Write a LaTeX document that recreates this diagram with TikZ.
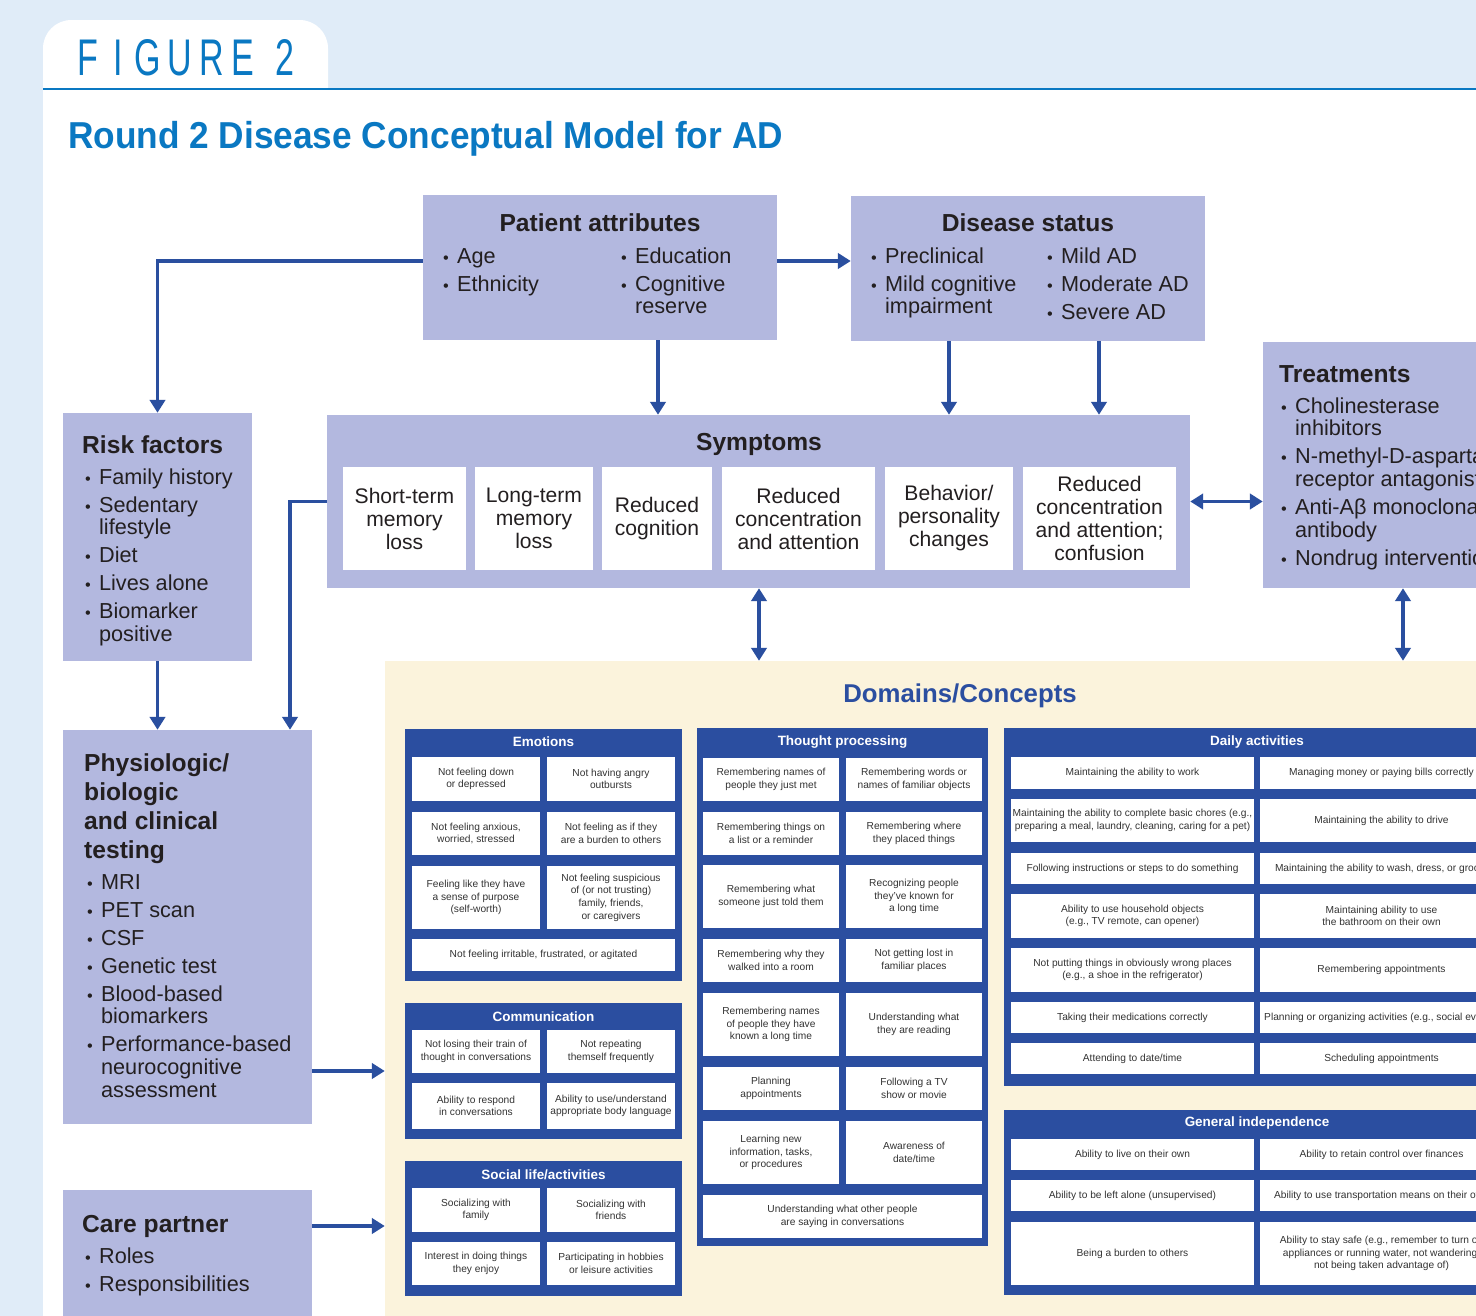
\documentclass[tikz,border=0pt]{standalone}
\usepackage{fontspec}
\setmainfont{Liberation Sans}
\usetikzlibrary{arrows.meta,fit}

\definecolor{bgblue}{HTML}{E0ECF8}
\definecolor{figblue}{HTML}{0A78C2}
\definecolor{lav}{HTML}{B3B8DF}
\definecolor{arrowblue}{HTML}{2A4F9F}
\definecolor{panelblue}{HTML}{2B4EA0}
\definecolor{cream}{HTML}{FBF3DC}
\definecolor{textdark}{HTML}{231F20}
\definecolor{celltext}{HTML}{333333}

\newcommand{\headfont}{\bfseries\fontsize{21}{24.8}\selectfont}
\newcommand{\bodyfont}{\fontsize{18.5}{19.6}\selectfont}
\newcommand{\symfont}{\fontsize{18}{19.6}\selectfont}
\newcommand{\cellfont}{\fontsize{8.7}{10.8}\selectfont}
\newcommand{\bt}{\scalebox{0.75}{\textbullet}}
\newcommand{\blist}[1]{\begin{tabular}[t]{@{}l@{\hspace{7pt}}l@{}}#1\end{tabular}}
\newcommand{\hlines}[1]{\begin{tabular}[t]{@{}l@{}}#1\end{tabular}}
\newcommand{\cellnode}[6]{\node[cellbox, fit={(#2,#3) (#4,#5)}] (#1) {};
  \node[celltext] (#1-t) at (#1.center) {#6};}
\newcommand{\symnode}[6]{\node[symbox, fit={(#2,#3) (#4,#5)}] (#1) {};
  \node[symtext] (#1-t) at (#1.center) {#6};}

\tikzset{
  mainbox/.style={fill=lav, inner sep=0pt},
  headtext/.style={font=\headfont, text=textdark, inner sep=0pt},
  listtext/.style={font=\bodyfont, text=textdark, inner sep=0pt, anchor=base west},
  symbox/.style={fill=white, inner sep=0pt},
  symtext/.style={inner sep=0pt, align=center, font=\symfont, text=textdark},
  panelbox/.style={fill=panelblue, inner sep=0pt},
  ptitle/.style={text=white, font=\bfseries\fontsize{11.5}{13}\selectfont, inner sep=0pt},
  cellbox/.style={fill=white, inner sep=0pt},
  celltext/.style={inner sep=0pt, align=center, font=\cellfont, text=celltext},
  figtext/.style={text=figblue, font=\fontsize{44}{44}\selectfont, inner sep=0pt},
  arr/.style={draw=arrowblue, line width=3pt, -{Triangle[width=13pt,length=11pt]}},
  darr/.style={draw=arrowblue, line width=3pt, {Triangle[width=13pt,length=11pt]}-{Triangle[width=13pt,length=11pt]}}
}

\begin{document}
\begin{tikzpicture}[x=0.03cm, y=-0.03cm]
\useasboundingbox (0,0) rectangle (1476,1316);
\clip (0,0) rectangle (1476,1316);

% page background
\fill[bgblue] (0,0) rectangle (1476,1316);
\fill[white, rounded corners=0.85cm] (43,20) rectangle (328,140);
\fill[white] (43,90) rectangle (1476,1316);
\draw[figblue, line width=2.5pt] (43,89) -- (1476,89);

\foreach \ch/\xx in {F/88, I/118, G/148, U/180, R/212, E/243, 2/285}
  \node[figtext] (fig-\ch) at (\xx,58) {\scalebox{0.66}[1]{\ch}};
\node[anchor=base west, inner sep=0pt, text=figblue, font=\bfseries\fontsize{32}{32}\selectfont] (title) at (68,148) {\scalebox{0.94}[1]{Round 2 Disease Conceptual Model for AD}};

% main boxes
\node[mainbox, fit={(423,195) (777,340)}] (pa) {};
\node[mainbox, fit={(851,196) (1205,341)}] (ds) {};
\node[mainbox, fit={(1263,342) (1543,588)}] (tr) {};
\node[mainbox, fit={(63,413) (252,661)}] (rf) {};
\node[mainbox, fit={(327,415) (1190,588)}] (sy) {};
\node[mainbox, fit={(63,730) (312,1124)}] (ph) {};
\node[mainbox, fit={(63,1190) (312,1340)}] (cp) {};
\node[fill=cream, inner sep=0pt, fit={(385,661) (1540,1340)}] (dom) {};

\node[headtext, anchor=base] (pa-head) at (600,231) {Patient attributes};
\node[listtext] (pa-l1) at (443,263) {\blist{\bt & Age\\[4.3pt] \bt & Ethnicity}};
\node[listtext] (pa-l2) at (621,263) {\blist{\bt & Education\\[4.3pt] \bt & Cognitive\\ & reserve}};

\node[headtext, anchor=base] (ds-head) at (1028,231) {Disease status};
\node[listtext] (ds-l1) at (871,263) {\blist{\bt & Preclinical\\[4.3pt] \bt & Mild cognitive\\ & impairment}};
\node[listtext] (ds-l2) at (1047,263) {\blist{\bt & Mild AD\\[4.3pt] \bt & Moderate AD\\[4.3pt] \bt & Severe AD}};

\node[headtext, anchor=base west] (tr-head) at (1279,382) {Treatments};
\node[listtext] (tr-l) at (1281,413) {\blist{\bt & Cholinesterase\\ & inhibitors\\[4.3pt] \bt & N-methyl-D-aspartate\\ & receptor antagonists\\[4.3pt] \bt & Anti-Aβ monoclonal\\ & antibody\\[4.3pt] \bt & Nondrug interventions}};

\node[headtext, anchor=base west] (rf-head) at (82,453) {Risk factors};
\node[listtext] (rf-l) at (85,484) {\blist{\bt & Family history\\[4.3pt] \bt & Sedentary\\ & lifestyle\\[4.3pt] \bt & Diet\\[4.3pt] \bt & Lives alone\\[4.3pt] \bt & Biomarker\\ & positive}};

\node[headtext, anchor=base west] (ph-head) at (84,771) {\hlines{Physiologic/\\biologic\\and clinical\\testing}};
\node[listtext] (ph-l) at (87,889) {\blist{\bt & MRI\\[4.3pt] \bt & PET scan\\[4.3pt] \bt & CSF\\[4.3pt] \bt & Genetic test\\[4.3pt] \bt & Blood-based\\ & biomarkers\\[4.3pt] \bt & Performance-based\\ & neurocognitive\\ & assessment}};

\node[headtext, anchor=base west] (cp-head) at (82,1232) {Care partner};
\node[listtext] (cp-l) at (85,1263) {\blist{\bt & Roles\\[4.3pt] \bt & Responsibilities}};

% symptoms
\node[headtext, anchor=base] (sy-head) at (759,450) {Symptoms};
\symnode{sy1}{343}{467}{466}{570}{Short-term\\memory\\loss}
\symnode{sy2}{475}{467}{593}{570}{Long-term\\memory\\loss}
\symnode{sy3}{602}{467}{712}{570}{Reduced\\cognition}
\symnode{sy4}{722}{467}{875}{570}{Reduced\\concentration\\and attention}
\symnode{sy5}{885}{467}{1013}{570}{Behavior/\\personality\\changes}
\symnode{sy6}{1023}{467}{1176}{570}{Reduced\\concentration\\and attention;\\confusion}

% domains
\node[font=\bfseries\fontsize{22}{24}\selectfont, text=panelblue, inner sep=0pt] (dom-head) at (960,696) {Domains/Concepts};

\node[panelbox, fit={(405,729) (682,981)}] (emo) {};
\node[ptitle] (emo-t) at (543.5,742) {Emotions};
\cellnode{em1}{412}{757}{540}{801}{Not feeling down\\or depressed}
\cellnode{em2}{547}{757}{675}{801}{Not having angry\\outbursts}
\cellnode{em3}{412}{812}{540}{855}{Not feeling anxious,\\worried, stressed}
\cellnode{em4}{547}{812}{675}{855}{Not feeling as if they\\are a burden to others}
\cellnode{em5}{412}{866}{540}{929}{Feeling like they have\\a sense of purpose\\(self-worth)}
\cellnode{em6}{547}{866}{675}{929}{Not feeling suspicious\\of (or not trusting)\\family, friends,\\or caregivers}
\cellnode{em7}{412}{939}{675}{971}{Not feeling irritable, frustrated, or agitated}

\node[panelbox, fit={(405,1003) (682,1139)}] (com) {};
\node[ptitle] (com-t) at (543.5,1017) {Communication};
\cellnode{co1}{412}{1030}{540}{1073}{Not losing their train of\\thought in conversations}
\cellnode{co2}{547}{1030}{675}{1073}{Not repeating\\themself frequently}
\cellnode{co3}{412}{1083}{540}{1129}{Ability to respond\\in conversations}
\cellnode{co4}{547}{1083}{675}{1129}{Ability to use/understand\\appropriate body language}

\node[panelbox, fit={(405,1161) (682,1296)}] (soc) {};
\node[ptitle] (soc-t) at (543.5,1175) {Social life/activities};
\cellnode{so1}{412}{1188}{540}{1232}{Socializing with\\family}
\cellnode{so2}{547}{1188}{675}{1232}{Socializing with\\friends}
\cellnode{so3}{412}{1242}{540}{1285}{Interest in doing things\\they enjoy}
\cellnode{so4}{547}{1242}{675}{1285}{Participating in hobbies\\or leisure activities}

\node[panelbox, fit={(697,728) (988,1246)}] (tp) {};
\node[ptitle] (tp-t) at (842.5,742) {Thought processing};
\cellnode{tp1}{703}{758}{839}{801}{Remembering names of\\people they just met}
\cellnode{tp2}{846}{758}{982}{801}{Remembering words or\\names of familiar objects}
\cellnode{tp3}{703}{812}{839}{855}{Remembering things on\\a list or a reminder}
\cellnode{tp4}{846}{812}{982}{855}{Remembering where\\they placed things}
\cellnode{tp5}{703}{865}{839}{928}{Remembering what\\someone just told them}
\cellnode{tp6}{846}{865}{982}{928}{Recognizing people\\they've known for\\a long time}
\cellnode{tp7}{703}{939}{839}{982}{Remembering why they\\walked into a room}
\cellnode{tp8}{846}{939}{982}{982}{Not getting lost in\\familiar places}
\cellnode{tp9}{703}{993}{839}{1056}{Remembering names\\of people they have\\known a long time}
\cellnode{tp10}{846}{993}{982}{1056}{Understanding what\\they are reading}
\cellnode{tp11}{703}{1067}{839}{1110}{Planning\\appointments}
\cellnode{tp12}{846}{1067}{982}{1110}{Following a TV\\show or movie}
\cellnode{tp13}{703}{1121}{839}{1184}{Learning new\\information, tasks,\\or procedures}
\cellnode{tp14}{846}{1121}{982}{1184}{Awareness of\\date/time}
\cellnode{tp15}{703}{1195}{982}{1238}{Understanding what other people\\are saying in conversations}

\node[panelbox, fit={(1004,728) (1510,1086)}] (da) {};
\node[ptitle] (da-t) at (1257,742) {Daily activities};
\cellnode{da1}{1011}{757}{1254}{789}{Maintaining the ability to work}
\cellnode{da2}{1260}{757}{1503}{789}{Managing money or paying bills correctly}
\cellnode{da3}{1011}{799}{1254}{842}{Maintaining the ability to complete basic chores (e.g.,\\preparing a meal, laundry, cleaning, caring for a pet)}
\cellnode{da4}{1260}{799}{1503}{842}{Maintaining the ability to drive}
\cellnode{da5}{1011}{853}{1254}{884}{Following instructions or steps to do something}
\cellnode{da6}{1260}{853}{1503}{884}{Maintaining the ability to wash, dress, or groom}
\cellnode{da7}{1011}{894}{1254}{938}{Ability to use household objects\\(e.g., TV remote, can opener)}
\cellnode{da8}{1260}{894}{1503}{938}{Maintaining ability to use\\the bathroom on their own}
\cellnode{da9}{1011}{948}{1254}{992}{Not putting things in obviously wrong places\\(e.g., a shoe in the refrigerator)}
\cellnode{da10}{1260}{948}{1503}{992}{Remembering appointments}
\cellnode{da11}{1011}{1002}{1254}{1033}{Taking their medications correctly}
\cellnode{da12}{1260}{1002}{1503}{1033}{Planning or organizing activities (e.g., social events)}
\cellnode{da13}{1011}{1043}{1254}{1074}{Attending to date/time}
\cellnode{da14}{1260}{1043}{1503}{1074}{Scheduling appointments}

\node[panelbox, fit={(1004,1110) (1510,1295)}] (gi) {};
\node[ptitle] (gi-t) at (1257,1123) {General independence};
\cellnode{gi1}{1011}{1139}{1254}{1170}{Ability to live on their own}
\cellnode{gi2}{1260}{1139}{1503}{1170}{Ability to retain control over finances}
\cellnode{gi3}{1011}{1180}{1254}{1211}{Ability to be left alone (unsupervised)}
\cellnode{gi4}{1260}{1180}{1503}{1211}{Ability to use transportation means on their own}
\cellnode{gi5}{1011}{1222}{1254}{1285}{Being a burden to others}
\cellnode{gi6}{1260}{1222}{1503}{1285}{Ability to stay safe (e.g., remember to turn off\\appliances or running water, not wandering,\\not being taken advantage of)}

% connectors
\draw[arr] (pa.west |- 0,261) -| (rf.north);
\draw[arr] (pa.east |- 0,261) -- (ds.west |- 0,261);
\draw[arr] (pa.south -| 658,0) -- (sy.north -| 658,0);
\draw[arr] (ds.south -| 949,0) -- (sy.north -| 949,0);
\draw[arr] (ds.south -| 1099,0) -- (sy.north -| 1099,0);
\draw[darr] (sy.east) -- (sy.east -| tr.west);
\draw[arr] (sy.west) -| (ph.north -| 290,0);
\draw[arr] (rf.south) -- (rf.south |- ph.north);
\draw[darr] (sy.south -| 759,0) -- (dom.north -| 759,0);
\draw[darr] (tr.south) -- (tr.south |- dom.north);
\draw[arr] (ph.east |- 0,1071) -- (dom.west |- 0,1071);
\draw[arr] (cp.east |- 0,1226) -- (dom.west |- 0,1226);
\end{tikzpicture}
\end{document}
